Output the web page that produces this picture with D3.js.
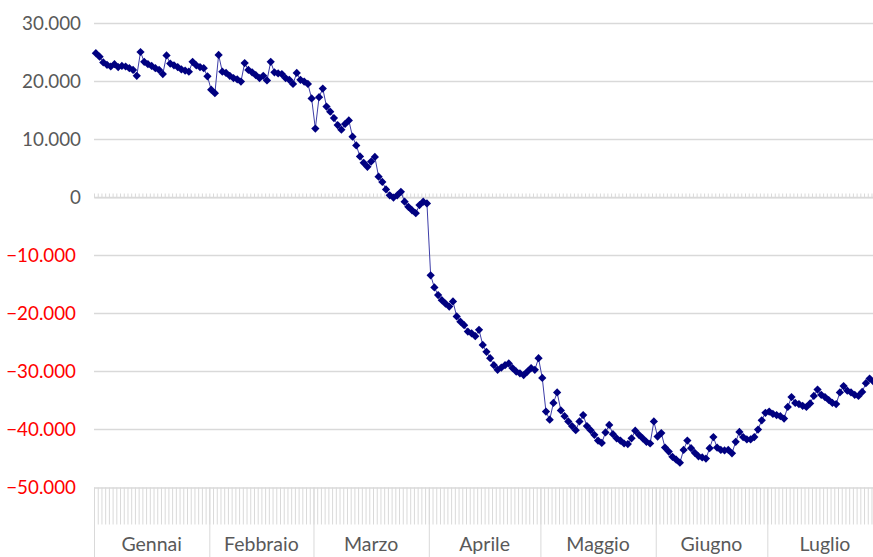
<!DOCTYPE html>
<html lang="it">

<head>
  <meta charset="UTF-8" />
  <title>Andamento giornaliero</title>
  <style>
    body {
      margin: 0;
      background: #fff;
      overflow: hidden;
    }

    svg {
      display: block;
      font-family: Lato, "Open Sans", sans-serif;
    }

    .grid line {
      stroke: #d9d9d9;
      stroke-width: 1.3px;
    }

    .ticks line,
    .ticks path {
      stroke: #d9d9d9;
      stroke-width: 1px;
    }

    .y-label {
      font-size: 18.8px;
      fill: #595959;
    }

    .y-label.neg {
      fill: #ff0000;
    }

    .month-label {
      font-size: 19.5px;
      fill: #595959;
    }

    .data-line {
      fill: none;
      stroke: #3d3da8;
      stroke-width: 1px;
    }

    .marker {
      fill: #000080;
    }
  </style>
</head>

<body>
  <script src="https://cdn.jsdelivr.net/npm/d3@7"></script>
  <script>
    // categories (outer level of the axis)
    var months = ["Gennai", "Febbraio", "Marzo", "Aprile", "Maggio", "Giugno", "Luglio"];
    var monthDays = [31, 28, 31, 30, 31, 30, 31];

    var yTicks = [30000, 20000, 10000, 0, -10000, -20000, -30000, -40000, -50000];

    // one value per day
    var gennaio = [24800, 24200, 23200, 22800, 22500, 22900, 22400, 22600, 22500, 22200, 21900, 20900,
      25000, 23300, 22900, 22600, 22200, 21900, 21200, 24400, 23000, 22700, 22400, 22000, 21800, 21600,
      23300, 22700, 22400, 22200, 20800];
    var febbraio = [18500, 17900, 24500, 21600, 21400, 20900, 20500, 20300, 19900, 23100, 21900, 21500,
      21000, 20500, 20900, 20100, 23300, 21500, 21300, 21200, 20500, 20200, 19500, 21400, 20200, 19900,
      19500, 17000];
    var marzo = [11800, 17200, 18700, 15600, 14700, 13600, 12400, 11600, 12600, 13200, 10400, 8900, 7000,
      5900, 5200, 6100, 6900, 3500, 2600, 1300, 300, -100, 300, 900, -800, -1700, -2300, -2800, -1400,
      -800, -1100];
    var aprile = [-13500, -15600, -16900, -17800, -18400, -18900, -18000, -20600, -21500, -22100, -23200,
      -23500, -24000, -22900, -25500, -26700, -27800, -29000, -29800, -29400, -29000, -28700, -29500,
      -30100, -30400, -30700, -30100, -29500, -29800, -27800];
    var maggio = [-31200, -37000, -38400, -35500, -33700, -36800, -37800, -38700, -39500, -40200, -38700,
      -37600, -39500, -40200, -41000, -42000, -42400, -40600, -39300, -40900, -41600, -42000, -42500,
      -42600, -41600, -40300, -41000, -41600, -42200, -42500, -38700];
    var giugno = [-41300, -40700, -43200, -43900, -44800, -45300, -45800, -43600, -42000, -43300, -44100,
      -44700, -44900, -45100, -43300, -41400, -43200, -43600, -43700, -43600, -44200, -42200, -40500,
      -41400, -41800, -41800, -41400, -40100, -38500, -37200];
    var luglio = [-37000, -37400, -37600, -37800, -38200, -36200, -34500, -35500, -35700, -36000, -36200,
      -35600, -34300, -33200, -34100, -34500, -35000, -35500, -35700, -33700, -32600, -33400, -33700,
      -34100, -34300, -33600, -32100, -31300, -31800];

    var w = 873;
    var h = 557;
    var margin = {
      top: 23,
      left: 94,
      bottom: 70
    };
    var dayWidth = 3.72;

    var values = [].concat(gennaio, febbraio, marzo, aprile, maggio, giugno, luglio);
    var nDays = d3.sum(monthDays);

    // month start positions in days
    var monthStart = [0];
    monthDays.forEach(function(d, i) {
      monthStart.push(monthStart[i] + d);
    });

    var svg = d3.select("body").append("svg")
      .attr("width", w)
      .attr("height", h);

    var xEdge = d3.scaleLinear()
      .domain([0, nDays])
      .range([margin.left, margin.left + nDays * dayWidth]);

    var xScale = d3.scaleBand()
      .domain(d3.range(nDays))
      .range(xEdge.range())
      .padding(0);

    var yScale = d3.scaleLinear()
      .domain([-50000, 30000])
      .range([h - margin.bottom, margin.top]);

    var fmt = d3.formatLocale({
      decimal: ",",
      thousands: ".",
      grouping: [3],
      currency: ["€", ""]
    }).format(",d");

    // horizontal gridlines
    svg.append("g")
      .attr("class", "grid")
      .selectAll("line")
      .data(yTicks.filter(function(d) {
        return d !== -50000;
      }))
      .enter()
      .append("line")
      .attr("x1", margin.left)
      .attr("x2", xEdge(nDays))
      .attr("y1", function(d) {
        return Math.round(yScale(d)) + 0.5;
      })
      .attr("y2", function(d) {
        return Math.round(yScale(d)) + 0.5;
      });

    // small day ticks on the zero line
    var zeroAxis = d3.axisTop(xEdge)
      .tickValues(d3.range(nDays + 1))
      .tickSize(4)
      .tickSizeOuter(0)
      .tickFormat("");

    svg.append("g")
      .attr("class", "ticks")
      .attr("transform", "translate(0," + (Math.round(yScale(0)) + 0.5) + ")")
      .call(zeroAxis);

    // day ticks in the lower axis band
    var dayAxis = d3.axisBottom(xEdge)
      .tickValues(d3.range(nDays + 1))
      .tickSize(37)
      .tickSizeOuter(0)
      .tickFormat("");

    svg.append("g")
      .attr("class", "ticks")
      .attr("transform", "translate(0," + (Math.round(yScale(-50000)) + 0.5) + ")")
      .call(dayAxis);

    // month separators
    var monthAxis = d3.axisBottom(xEdge)
      .tickValues(monthStart)
      .tickSize(80)
      .tickSizeOuter(0)
      .tickFormat("");

    svg.append("g")
      .attr("class", "ticks")
      .attr("transform", "translate(0," + (Math.round(yScale(-50000)) + 0.5) + ")")
      .call(monthAxis);

    // month labels
    svg.append("g")
      .selectAll("text")
      .data(months)
      .enter()
      .append("text")
      .attr("class", "month-label")
      .attr("text-anchor", "middle")
      .attr("x", function(d, i) {
        return (xEdge(monthStart[i]) + xEdge(monthStart[i + 1])) / 2;
      })
      .attr("y", 551)
      .text(function(d) {
        return d;
      });

    // y labels
    svg.append("g")
      .selectAll("text")
      .data(yTicks)
      .enter()
      .append("text")
      .attr("class", function(d) {
        return d < 0 ? "y-label neg" : "y-label";
      })
      .attr("text-anchor", "end")
      .attr("x", function(d) {
        return d < 0 ? 76 : 81;
      })
      .attr("y", function(d) {
        return yScale(d);
      })
      .attr("dy", "0.35em")
      .text(function(d) {
        return fmt(d);
      });

    // series
    var line = d3.line()
      .x(function(d, i) {
        return xScale(i) + xScale.bandwidth() / 2;
      })
      .y(function(d) {
        return yScale(d);
      });

    svg.append("path")
      .datum(values)
      .attr("class", "data-line")
      .attr("d", line);

    var diamond = d3.symbol().type(d3.symbolSquare).size(34);

    svg.append("g")
      .selectAll("path")
      .data(values)
      .enter()
      .append("path")
      .attr("class", "marker")
      .attr("d", diamond)
      .attr("transform", function(d, i) {
        return "translate(" + (xScale(i) + xScale.bandwidth() / 2) + "," + yScale(d) + ") rotate(45)";
      });
  </script>
</body>

</html>
